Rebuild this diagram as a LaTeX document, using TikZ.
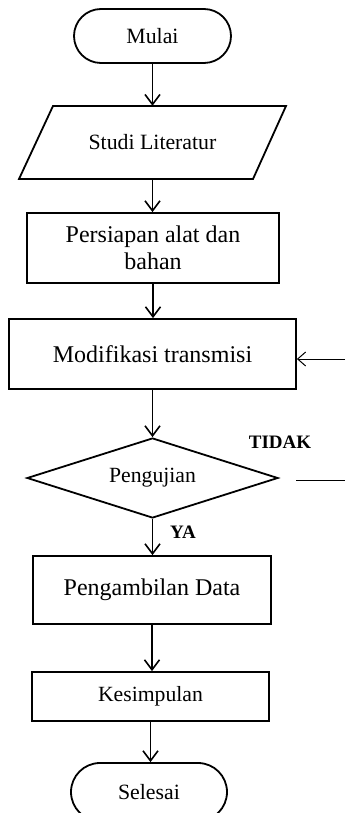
\documentclass[tikz,border=0pt]{standalone}
\usepackage{fontspec}
\setmainfont{Liberation Serif}
\usetikzlibrary{arrows.meta,shapes.geometric}
\tikzset{
  shapeline/.style={draw=black, line width=1.8pt},
  procbox/.style={shapeline, rectangle, inner sep=0pt, align=center, font=\fontsize{24}{27}\selectfont},
  termbox/.style={shapeline, rectangle, rounded corners=27pt, minimum width=157pt, minimum height=54pt, inner sep=0pt, font=\fontsize{21.8}{25}\selectfont},
  decbox/.style={shapeline, diamond, aspect=3.14, minimum width=251pt, minimum height=80pt, inner sep=0pt, font=\fontsize{21.7}{25}\selectfont},
  flow/.style={line width=1.8pt, -{Straight Barb[length=10pt, width=15pt, line width=1.6pt]}},
  thinflow/.style={line width=1pt, -{Straight Barb[length=8pt, width=14pt, line width=1pt]}},
  lbl/.style={inner sep=0pt, font=\bfseries\fontsize{19}{22}\selectfont, anchor=base}
}
\begin{document}
\begin{tikzpicture}[x=1pt, y=-1pt]
\useasboundingbox (0,0) rectangle (345,813);
\node[termbox] (mulai) at (152.5,36) {Mulai};
\node[inner sep=0pt, minimum width=233pt, minimum height=73pt, font=\fontsize{21.8}{25}\selectfont] (studi) at (152.5,142.5) {Studi Literatur};
\draw[shapeline, line join=miter] (19,179) -- (53,106) -- (286,106) -- (253,179) -- cycle;
\node[procbox, minimum width=252pt, minimum height=70pt] (persiapan) at (153,248) {Persiapan alat dan\\bahan};
\node[procbox, minimum width=287pt, minimum height=70pt] (modif) at (152.5,354) {Modifikasi transmisi};
\node[decbox] (uji) at (152.5,478) {Pengujian};
\node[procbox, minimum width=238pt, minimum height=68pt] (ambil) at (152,590) {Pengambilan Data};
\node[procbox, minimum width=237pt, minimum height=49pt, font=\fontsize{21.7}{25}\selectfont] (simpul) at (150.5,696.5) {Kesimpulan};
\node[termbox, minimum width=156pt, minimum height=58pt, rounded corners=29pt] (selesai) at (149,792) {Selesai};

\draw[flow] (mulai.south) -- (mulai.south |- studi.north);
\draw[flow] (studi.south) -- (studi.south |- persiapan.north);
\draw[flow] (persiapan.south) -- (persiapan.south |- modif.north);
\draw[flow] (modif.south) -- (uji.north);
\draw[flow] (uji.south) -- (uji.south |- ambil.north);
\draw[flow] (ambil.south) -- (ambil.south |- simpul.north);
\draw[flow] (simpul.south) -- (simpul.south |- selesai.north);

\coordinate (fbstart) at (296,480);
\coordinate (fbend) at (345,480);
\coordinate (fbin) at (345,359);
\draw[line width=1pt] (fbstart) -- (fbend);
\draw[thinflow] (fbin) -- (modif.east |- fbin);

\node[lbl] (tidak) at (280,448) {TIDAK};
\node[lbl] (ya) at (183,538) {YA};
\end{tikzpicture}
\end{document}
